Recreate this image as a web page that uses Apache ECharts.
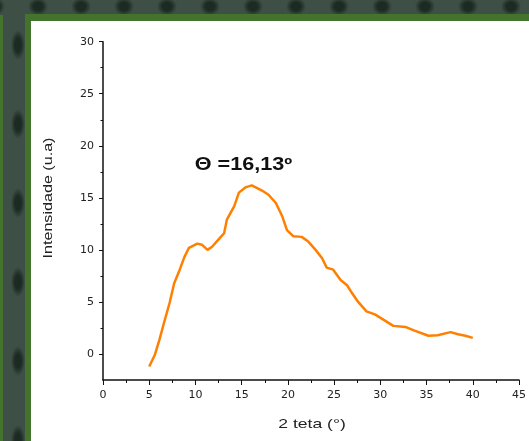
<!DOCTYPE html>
<html>
<head>
<meta charset="utf-8">
<script src="https://cdn.jsdelivr.net/npm/echarts@6/dist/echarts.min.js"></script>
<style>
  html, body { margin: 0; padding: 0; }
  #bg { position: absolute; left: 0; top: 0; width: 529px; height: 441px; background-color: #3e4f45; }
  #topband {
    position: absolute; left: 0; top: 0; width: 529px; height: 15px;
    background-image: radial-gradient(ellipse 10px 9px at center, #1b2a22 0, #1b2a22 45%, rgba(27,42,34,0) 100%);
    background-size: 43px 15px; background-position: 16.5px -1px; background-repeat: repeat-x;
  }
  #leftband {
    position: absolute; left: 3px; top: 15px; width: 22px; height: 426px;
    background-image: radial-gradient(ellipse 7px 15px at center, #1b2a22 0, #1b2a22 45%, rgba(27,42,34,0) 100%);
    background-size: 22px 79px; background-position: 4px -9.5px; background-repeat: repeat-y;
  }
  #leftgreen { position: absolute; left: 0; top: 15px; width: 3px; height: 426px; background: #44732e; }
  #frame { position: absolute; left: 25px; top: 14px; width: 504px; height: 427px; background: #44732e; }
  #panel { position: absolute; left: 31px; top: 21px; width: 498px; height: 420px; background: #ffffff; }
  #chart { position: absolute; left: 0; top: 0; width: 529px; height: 441px; }
</style>
</head>
<body>
<div id="bg"></div>
<div id="topband"></div>
<div id="leftband"></div>
<div id="leftgreen"></div>
<div id="frame"></div>
<div id="panel"></div>
<div id="chart"></div>
<script>
const xValues = [5.0, 5.6, 6.1, 6.6, 7.2, 7.7, 8.3, 8.8, 9.3, 10.2, 10.7, 11.3, 11.8, 12.6, 13.1, 13.4, 14.2, 14.7, 15.4, 16.1, 17.2, 17.9, 18.7, 19.4, 19.9, 20.6, 21.5, 22.2, 23.0, 23.7, 24.2, 24.9, 25.7, 26.4, 26.9, 27.6, 28.5, 29.4, 30.5, 31.4, 32.7, 33.7, 35.2, 36.2, 37.6, 38.4, 39.2, 40.0];
const intensity = [-1.2, -0.1, 1.35, 3.0, 4.9, 6.8, 8.1, 9.3, 10.2, 10.6, 10.5, 10.0, 10.3, 11.1, 11.6, 12.9, 14.2, 15.5, 16.0, 16.2, 15.7, 15.3, 14.5, 13.2, 11.9, 11.3, 11.25, 10.8, 10.0, 9.2, 8.3, 8.1, 7.1, 6.6, 5.9, 5.0, 4.1, 3.8, 3.2, 2.7, 2.6, 2.25, 1.75, 1.8, 2.1, 1.9, 1.75, 1.55];
const yTickLabels = [0, 5, 10, 15, 20, 25, 30];
const yMinorTicks = [2.5, 7.5, 12.5, 17.5, 22.5, 27.5];
const xAxisTitle = '2 teta (°)';
const yAxisTitle = 'Intensidade (u.a)';
const annotation = 'Θ =16,13º';

const points = xValues.map((x, i) => [x, intensity[i]]);
const font = '"Liberation Sans", Arial, sans-serif';
const tickFont = '"DejaVu Sans", sans-serif';

const chart = echarts.init(document.getElementById('chart'), null, { renderer: 'canvas' });
chart.setOption({
  backgroundColor: 'transparent',
  animation: false,
  grid: { left: 103, right: 8, top: 41.7, bottom: 61 },
  xAxis: {
    type: 'value', min: 0, max: 45, interval: 5,
    axisLine: { onZero: false, lineStyle: { color: '#111', width: 1.5 } },
    axisTick: { show: true, length: 5, lineStyle: { color: '#111', width: 1 } },
    minorTick: { show: true, splitNumber: 2, length: 3, lineStyle: { color: '#111', width: 1 } },
    axisLabel: { fontFamily: tickFont, fontSize: 11, color: '#222', margin: 10 },
    splitLine: { show: false }
  },
  yAxis: [
    {
      type: 'value', min: -2.5, max: 30,
      axisLine: { show: true, onZero: false, lineStyle: { color: '#111', width: 1.5 } },
      axisTick: { show: true, length: 4, customValues: yTickLabels, lineStyle: { color: '#111', width: 1 } },
      axisLabel: { fontFamily: tickFont, fontSize: 11, color: '#222', margin: 9, customValues: yTickLabels },
      splitLine: { show: false }
    },
    {
      type: 'value', min: -2.5, max: 30, position: 'left',
      axisLine: { show: false },
      axisTick: { show: true, length: 2.5, customValues: yMinorTicks, lineStyle: { color: '#111', width: 1 } },
      axisLabel: { show: false },
      splitLine: { show: false }
    }
  ],
  series: [{
    type: 'line', yAxisIndex: 0, data: points,
    showSymbol: false, smooth: false,
    lineStyle: { color: '#ff8000', width: 2.5 }
  }],
  graphic: [
    {
      type: 'text', x: 48, y: 198, rotation: Math.PI / 2, scaleX: 1.24,
      style: { text: yAxisTitle, font: '13px ' + font, fill: '#222', align: 'center', verticalAlign: 'middle' }
    },
    {
      type: 'text', x: 312, y: 424, scaleX: 1.35,
      style: { text: xAxisTitle, font: '13px ' + font, fill: '#222', align: 'center', verticalAlign: 'middle' }
    },
    {
      type: 'text', x: 243.5, y: 165, scaleX: 1.2,
      style: { text: annotation, font: 'bold 18px ' + font, fill: '#111', align: 'center', verticalAlign: 'middle' }
    }
  ]
});
</script>
</body>
</html>
